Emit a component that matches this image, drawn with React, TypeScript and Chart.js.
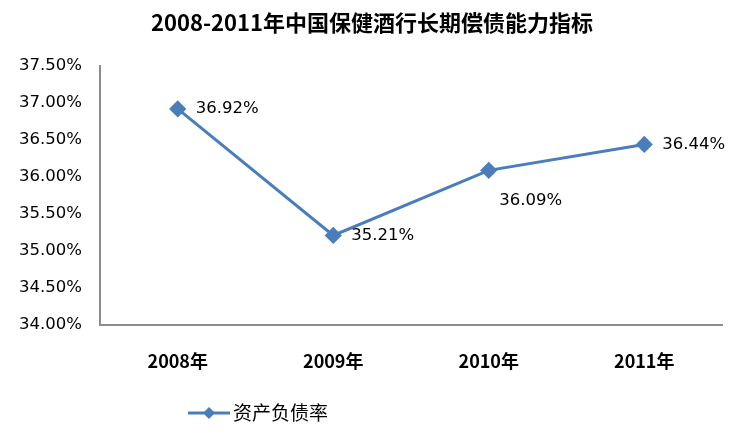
import React, { useEffect, useRef } from "react";
import { Chart, registerables } from "chart.js";

Chart.register(...registerables);

const title = "2008-2011年中国保健酒行长期偿债能力指标";
const categories = ["2008年", "2009年", "2010年", "2011年"];
const seriesName = "资产负债率";
const debtRatio = [36.92, 35.21, 36.09, 36.44];
const yMin = 34;
const yMax = 37.5;
const yStep = 0.5;
const labelPlacement = ["right", "right", "below", "right"];

const LINE_COLOR = "#4a7ebb";
const TICK_FONT = "DejaVu Sans";

const titlePlugin = {
  id: "titleDraw",
  afterDraw(chart: any) {
    const ctx = chart.ctx;
    ctx.save();
    ctx.font = "bold 22px 'Noto Sans CJK SC'";
    ctx.fillStyle = "#000";
    ctx.textAlign = "center";
    ctx.textBaseline = "middle";
    ctx.fillText(title, chart.width / 2, 23);
    ctx.restore();
  },
};

const dataLabelPlugin = {
  id: "dataLabels",
  afterDatasetsDraw(chart: any) {
    const ctx = chart.ctx;
    const meta = chart.getDatasetMeta(0);
    ctx.save();
    ctx.font = `16.5px '${TICK_FONT}'`;
    ctx.fillStyle = "#000";
    ctx.textBaseline = "middle";
    meta.data.forEach((pt: any, i: number) => {
      const v = chart.data.datasets[0].data[i] as number;
      const txt = v.toFixed(2) + "%";
      if (labelPlacement[i] === "below") {
        ctx.textAlign = "center";
        ctx.fillText(txt, pt.x + 42, pt.y + 30);
      } else {
        ctx.textAlign = "left";
        ctx.fillText(txt, pt.x + 18, pt.y);
      }
    });
    ctx.restore();
  },
};

const legendPlugin = {
  id: "legendDraw",
  afterDraw(chart: any) {
    const ctx = chart.ctx;
    const x0 = chart.chartArea.left + 88;
    const y = 413;
    ctx.save();
    ctx.strokeStyle = LINE_COLOR;
    ctx.lineWidth = 3;
    ctx.beginPath();
    ctx.moveTo(x0, y);
    ctx.lineTo(x0 + 42, y);
    ctx.stroke();
    const cx = x0 + 21;
    const r = 6;
    ctx.fillStyle = LINE_COLOR;
    ctx.beginPath();
    ctx.moveTo(cx, y - r);
    ctx.lineTo(cx + r, y);
    ctx.lineTo(cx, y + r);
    ctx.lineTo(cx - r, y);
    ctx.closePath();
    ctx.fill();
    ctx.fillStyle = "#000";
    ctx.font = "19px 'Noto Sans CJK SC'";
    ctx.textAlign = "left";
    ctx.textBaseline = "middle";
    ctx.fillText(seriesName, x0 + 45, y);
    ctx.restore();
  },
};

export default function App() {
  const ref = useRef<HTMLCanvasElement | null>(null);
  useEffect(() => {
    if (!ref.current) return;
    const chart = new Chart(ref.current, {
      type: "line",
      data: {
        labels: categories,
        datasets: [
          {
            label: seriesName,
            data: debtRatio,
            borderColor: LINE_COLOR,
            backgroundColor: LINE_COLOR,
            borderWidth: 3,
            pointStyle: "rectRot",
            pointRadius: 6.5,
            pointBackgroundColor: LINE_COLOR,
            pointBorderColor: LINE_COLOR,
            tension: 0,
          },
        ],
      },
      options: {
        animation: false,
        responsive: false,
        devicePixelRatio: 1,
        layout: { padding: { left: 0, right: 22, top: 66, bottom: 0 } },
        plugins: {
          legend: { display: false },
          title: { display: false },
          tooltip: { enabled: false },
        },
        scales: {
          x: {
            offset: true,
            grid: { display: false, drawTicks: false },
            border: { display: true, color: "#8c8c8c", width: 2 },
            ticks: {
              padding: 25,
              color: "#000",
              font: { family: "'Noto Sans CJK SC'", size: 18, weight: "bold" },
            },
            afterFit(scale: any) {
              scale.height = 118;
            },
          },
          y: {
            min: yMin,
            max: yMax,
            grid: { display: false, drawTicks: false },
            border: { display: true, color: "#8c8c8c", width: 2 },
            ticks: {
              stepSize: yStep,
              padding: 18,
              color: "#000",
              font: { family: TICK_FONT, size: 16.5 },
              callback: (v: any) => Number(v).toFixed(2) + "%",
            },
            afterFit(scale: any) {
              scale.width = 100;
            },
          },
        },
      },
      plugins: [titlePlugin, dataLabelPlugin, legendPlugin],
    });
    return () => chart.destroy();
  }, []);
  return (
    <div style={{ position: "fixed", left: 0, top: 0, width: 744, height: 443, background: "#fff" }}>
      <canvas ref={ref} width={744} height={443} style={{ display: "block" }} />
    </div>
  );
}
